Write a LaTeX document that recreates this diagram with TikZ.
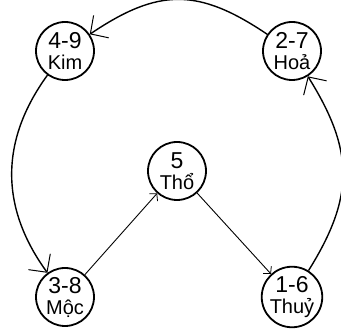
\documentclass[tikz,border=0pt]{standalone}
\usepackage{fontspec}
\setmainfont{Liberation Sans}
\usetikzlibrary{arrows.meta}
\begin{document}
\begin{tikzpicture}[x=1pt,y=1pt,
  elem/.style={circle,draw,line width=1.8pt,minimum size=58pt,inner sep=0pt,align=center,font=\fontsize{20}{21}\selectfont},
  arcline/.style={line width=1.4pt,-{Straight Barb[length=13pt,width=27pt,line width=1pt]}},
  thinline/.style={line width=0.9pt,-{Straight Barb[length=5pt,width=11pt,line width=0.8pt]}}]
\useasboundingbox (0,0) rectangle (341,332);
\newcommand\bignum[1]{{\fontsize{23}{23}\selectfont #1}}
\node[elem] (kim) at (65,281) {\bignum{4-9}\\Kim};
\node[elem] (hoa) at (292,281) {\bignum{2-7}\\Hoả};
\node[elem] (tho) at (177,161) {\bignum{5}\\Thổ};
\node[elem] (moc) at (65,35) {\bignum{3-8}\\Mộc};
\node[elem] (thuy) at (292,35) {\bignum{1-6}\\Thuỷ};
\draw[arcline] (hoa) to[out=146,in=34,looseness=1.2] (kim);
\draw[arcline] (kim) to[out=234,in=126,looseness=1.05] (moc);
\draw[arcline] (thuy) to[out=58,in=-58,looseness=1.15] (hoa);
\draw[thinline] (moc) -- (tho);
\draw[thinline] (tho) -- (thuy);
\end{tikzpicture}
\end{document}
